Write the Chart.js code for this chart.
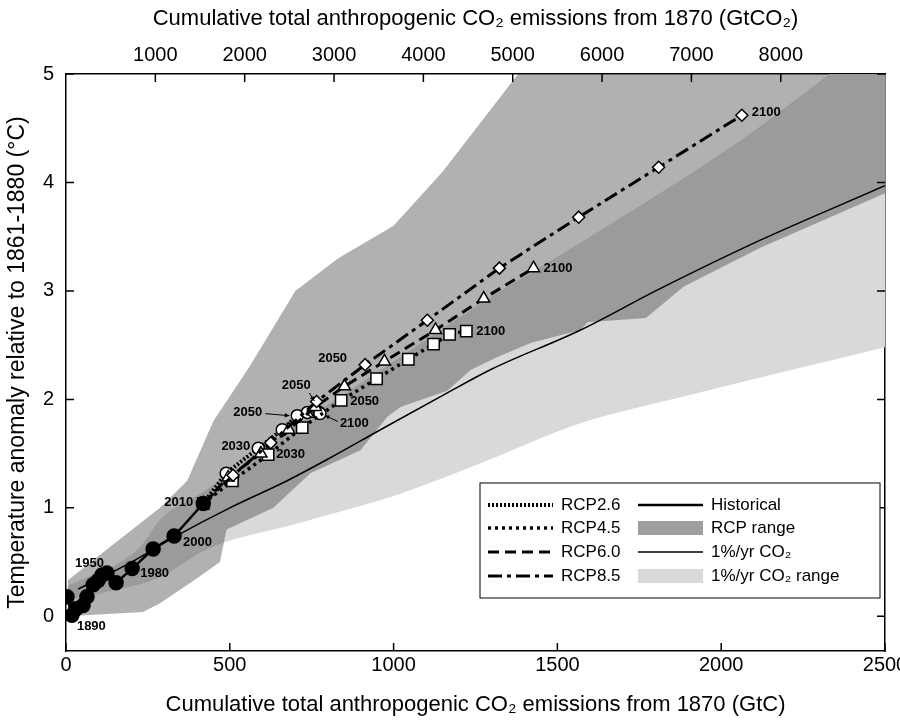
<!DOCTYPE html>
<html>
<head>
<meta charset="utf-8">
<script src="https://cdn.jsdelivr.net/npm/chart.js@4.4.1/dist/chart.umd.min.js"></script>
<style>
  body { margin: 0; background: #fff; }
  #wrap { width: 900px; height: 720px; }
</style>
</head>
<body>
<div id="wrap"><canvas id="myChart" width="900" height="720"></canvas></div>
<script>
// cumulative emissions (GtC since 1870) against warming (degC), decadal means
const histX = [3, 18, 31, 52, 64, 83, 98, 110, 125, 153, 202, 266, 330, 419];
const histY = [0.18, 0.01, 0.07, 0.10, 0.18, 0.29, 0.33, 0.38, 0.40, 0.31, 0.44, 0.62, 0.74, 1.04];

// RCP decades 2010 ... 2100
const rcp26X = [419, 489, 587, 660, 706, 737, 755, 766, 772, 775];
const rcp26Y = [1.04, 1.32, 1.55, 1.72, 1.85, 1.88, 1.89, 1.89, 1.88, 1.87];
const rcp45X = [419, 508, 617, 721, 840, 948, 1045, 1122, 1171, 1222];
const rcp45Y = [1.04, 1.25, 1.49, 1.74, 1.99, 2.19, 2.37, 2.51, 2.60, 2.63];
const rcp60X = [419, 495, 595, 680, 761, 850, 972, 1128, 1275, 1427];
const rcp60Y = [1.04, 1.28, 1.50, 1.72, 1.93, 2.12, 2.35, 2.64, 2.93, 3.21];
const rcp85X = [419, 510, 625, 765, 913, 1103, 1323, 1565, 1809, 2063];
const rcp85Y = [1.04, 1.30, 1.60, 1.98, 2.32, 2.73, 3.21, 3.68, 4.14, 4.62];

// 1%/yr CO2 experiment
const pctX = [37, 200, 330, 500, 675, 800, 960, 1164, 1300, 1571, 1800, 2121, 2500];
const pctY = [0.25, 0.50, 0.73, 1.00, 1.25, 1.45, 1.72, 2.06, 2.28, 2.64, 3.00, 3.47, 3.97];

// model spread envelopes
const rcpTopX = [5, 134, 287, 370, 450, 560, 700, 830, 1000, 1150, 1380, 1600, 2500];
const rcpTopY = [0.33, 0.64, 1.00, 1.25, 1.80, 2.30, 3.00, 3.30, 3.60, 4.10, 5.00, 5.60, 8.00];
const rcpLowX = [5, 235, 287, 400, 470, 490, 633, 746, 899, 981, 1021, 1164, 1235, 1317, 1418, 1571, 1592, 1770, 1886, 2121, 2500];
const rcpLowY = [0.00, 0.04, 0.12, 0.35, 0.50, 0.80, 1.00, 1.32, 1.53, 1.84, 1.93, 2.08, 2.27, 2.39, 2.52, 2.64, 2.71, 2.75, 3.04, 3.40, 3.90];
const pctTopX = [5, 220, 290, 420, 700, 1000, 1300, 1600, 2060, 2265, 2500];
const pctTopY = [0.28, 0.62, 0.90, 1.15, 1.75, 2.35, 2.95, 3.50, 4.39, 4.85, 5.40];
const pctLowX = [5, 104, 287, 431, 700, 1021, 1265, 1571, 1876, 2500];
const pctLowY = [0.15, 0.21, 0.36, 0.62, 0.85, 1.13, 1.41, 1.78, 2.02, 2.48];

const gtcMax = 2500;
const co2PerC = 44 / 12;
const topTicks = [1000, 2000, 3000, 4000, 5000, 6000, 7000, 8000];
const leftTicks = [0, 1, 2, 3, 4, 5];

const pts = (xs, ys) => xs.map((x, i) => ({ x: x, y: ys[i] }));
const FONT = "'Liberation Sans', Arial, sans-serif";

// year tags: dataset label, point index, text, offset in px
const yearNotes = [
  { ds: 'Historical', i: 1, text: '1890', dx: 5, dy: 11, align: 'left' },
  { ds: 'Historical', i: 7, text: '1950', dx: -27, dy: -12, align: 'left' },
  { ds: 'Historical', i: 10, text: '1980', dx: 8, dy: 5, align: 'left' },
  { ds: 'Historical', i: 12, text: '2000', dx: 9, dy: 6, align: 'left' },
  { ds: 'Historical', i: 13, text: '2010', dx: -10, dy: -1, align: 'right' },
  { ds: 'RCP2.6', i: 2, text: '2030', dx: -8, dy: -2, align: 'right' },
  { ds: 'RCP4.5', i: 2, text: '2030', dx: 8, dy: 0, align: 'left' },
  { ds: 'RCP2.6', i: 4, text: '2050', dx: -35, dy: -3, align: 'right', arrow: [-32, -2, -8, 0] },
  { ds: 'RCP2.6', i: 9, text: '2100', dx: 20, dy: 10, align: 'left', arrow: [18, 8, 5, 2] },
  { ds: 'RCP6.0', i: 4, text: '2050', dx: -19, dy: -22, align: 'center', arrow: [-6, -14, -1, -6] },
  { ds: 'RCP8.5', i: 4, text: '2050', dx: -18, dy: -6, align: 'right' },
  { ds: 'RCP4.5', i: 4, text: '2050', dx: 9, dy: 1, align: 'left' },
  { ds: 'RCP4.5', i: 9, text: '2100', dx: 10, dy: 0, align: 'left' },
  { ds: 'RCP6.0', i: 9, text: '2100', dx: 10, dy: 0, align: 'left' },
  { ds: 'RCP8.5', i: 9, text: '2100', dx: 10, dy: -3, align: 'left' }
];

const yearTags = {
  id: 'yearTags',
  afterDatasetsDraw(chart) {
    const ctx = chart.ctx;
    ctx.save();
    ctx.font = 'bold 13px ' + FONT;
    ctx.fillStyle = '#000';
    ctx.strokeStyle = '#000';
    ctx.lineWidth = 1;
    ctx.textBaseline = 'middle';
    yearNotes.forEach(n => {
      const idx = chart.data.datasets.findIndex(d => d.label === n.ds);
      const el = chart.getDatasetMeta(idx).data[n.i];
      ctx.textAlign = n.align;
      ctx.fillText(n.text, el.x + n.dx, el.y + n.dy);
      if (n.arrow) {
        const [x0, y0, x1, y1] = n.arrow;
        const ax = el.x + x1, ay = el.y + y1;
        ctx.beginPath();
        ctx.moveTo(el.x + x0, el.y + y0);
        ctx.lineTo(ax, ay);
        ctx.stroke();
        const ang = Math.atan2(y1 - y0, x1 - x0);
        ctx.beginPath();
        ctx.moveTo(ax, ay);
        ctx.lineTo(ax - 5 * Math.cos(ang - 0.45), ay - 5 * Math.sin(ang - 0.45));
        ctx.lineTo(ax - 5 * Math.cos(ang + 0.45), ay - 5 * Math.sin(ang + 0.45));
        ctx.closePath();
        ctx.fill();
      }
    });
    ctx.restore();
  }
};

// inward tick marks on all four sides
const frameTicks = {
  id: 'frameTicks',
  afterDraw(chart) {
    const ctx = chart.ctx;
    const a = chart.chartArea;
    const len = 8;
    ctx.save();
    ctx.strokeStyle = '#000';
    ctx.lineWidth = 1.5;
    ctx.beginPath();
    chart.scales.x.ticks.forEach(t => {
      const p = chart.scales.x.getPixelForValue(t.value);
      ctx.moveTo(p, a.bottom); ctx.lineTo(p, a.bottom - len);
    });
    chart.scales.x2.ticks.forEach(t => {
      const p = chart.scales.x2.getPixelForValue(t.value);
      ctx.moveTo(p, a.top); ctx.lineTo(p, a.top + len);
    });
    chart.scales.y.ticks.forEach(t => {
      const p = chart.scales.y.getPixelForValue(t.value);
      ctx.moveTo(a.left, p); ctx.lineTo(a.left + len, p);
      ctx.moveTo(a.right, p); ctx.lineTo(a.right - len, p);
    });
    ctx.stroke();
    ctx.restore();
  }
};

// two-column key inside the lower right corner
const keyBox = {
  id: 'keyBox',
  afterDraw(chart) {
    const ctx = chart.ctx;
    const a = chart.chartArea;
    const box = { l: a.right - 405, t: a.bottom - 168, r: a.right - 5, b: a.bottom - 53 };
    ctx.save();
    ctx.fillStyle = '#fff';
    ctx.fillRect(box.l, box.t, box.r - box.l, box.b - box.t);
    ctx.strokeStyle = '#000';
    ctx.lineWidth = 1;
    ctx.strokeRect(box.l, box.t, box.r - box.l, box.b - box.t);
    const rows = [box.t + 22, box.t + 45, box.t + 69, box.t + 93];
    const sets = chart.data.datasets;
    const get = lbl => sets.find(d => d.label === lbl);
    const cols = [
      { x: box.l + 8, items: ['RCP2.6', 'RCP4.5', 'RCP6.0', 'RCP8.5'] },
      { x: box.l + 158, items: ['Historical', 'RCP range', '1%/yr CO\u2082', '1%/yr CO\u2082 range'] }
    ];
    ctx.font = '17px ' + FONT;
    ctx.textBaseline = 'middle';
    ctx.textAlign = 'left';
    cols.forEach(c => {
      c.items.forEach((lbl, k) => {
        const d = get(lbl);
        const y = rows[k];
        if (d.keySwatch) {
          ctx.fillStyle = d.keySwatch;
          ctx.fillRect(c.x, y - 7, 65, 14);
        } else {
          ctx.save();
          ctx.strokeStyle = '#000';
          ctx.lineWidth = d.borderWidth;
          ctx.setLineDash(d.borderDash || []);
          ctx.beginPath();
          ctx.moveTo(c.x, y);
          ctx.lineTo(c.x + 65, y);
          ctx.stroke();
          ctx.restore();
        }
        ctx.fillStyle = '#000';
        ctx.fillText(lbl, c.x + 73, y);
      });
    });
    ctx.restore();
  }
};

const markerBase = { borderColor: '#000', pointBorderColor: '#000', pointBackgroundColor: '#fff', pointBorderWidth: 1.5, fill: false, tension: 0 };

const datasets = [
  Object.assign({}, markerBase, { label: 'RCP2.6', data: pts(rcp26X, rcp26Y), borderWidth: 4, borderDash: [2, 2], pointStyle: 'circle', pointRadius: 6, order: 4 }),
  Object.assign({}, markerBase, { label: 'RCP4.5', data: pts(rcp45X, rcp45Y), borderWidth: 3.5, borderDash: [3, 4], pointStyle: 'rect', pointRadius: 8, order: 3 }),
  Object.assign({}, markerBase, { label: 'RCP6.0', data: pts(rcp60X, rcp60Y), borderWidth: 3, borderDash: [11, 6], pointStyle: 'triangle', pointRadius: 7, order: 2 }),
  Object.assign({}, markerBase, { label: 'RCP8.5', data: pts(rcp85X, rcp85Y), borderWidth: 3, borderDash: [14, 5, 4, 5], pointStyle: 'rectRot', pointRadius: 6, order: 1 }),
  { label: 'Historical', data: pts(histX, histY), borderColor: '#000', borderWidth: 2.5, pointBackgroundColor: '#000', pointBorderColor: '#000', pointRadius: 6.5, fill: false, order: 0 },
  { label: '1%/yr CO\u2082', data: pts(pctX, pctY), borderColor: '#000', borderWidth: 1.5, pointRadius: 0, fill: false, cubicInterpolationMode: 'monotone', order: 5 },
  { label: 'RCP range', data: pts(rcpTopX, rcpTopY), borderWidth: 0, pointRadius: 0, backgroundColor: 'rgba(70,70,70,0.42)', fill: '+1', keySwatch: '#9e9e9e', order: 6 },
  { label: 'rcpLow', data: pts(rcpLowX, rcpLowY), borderWidth: 0, pointRadius: 0, fill: false, order: 7 },
  { label: '1%/yr CO\u2082 range', data: pts(pctTopX, pctTopY), borderWidth: 0, pointRadius: 0, backgroundColor: '#d9d9d9', fill: '+1', keySwatch: '#d9d9d9', cubicInterpolationMode: 'monotone', order: 8 },
  { label: 'pctLow', data: pts(pctLowX, pctLowY), borderWidth: 0, pointRadius: 0, fill: false, cubicInterpolationMode: 'monotone', order: 9 }
];

const tickFont = { family: FONT, size: 20 };
const titleFont = { family: FONT, size: 22 };
const plainNum = v => String(v);

new Chart(document.getElementById('myChart'), {
  type: 'line',
  data: { datasets: datasets },
  plugins: [yearTags, frameTicks, keyBox],
  options: {
    responsive: false,
    animation: false,
    devicePixelRatio: 1,
    layout: { padding: 0 },
    plugins: { legend: { display: false }, tooltip: { enabled: false } },
    scales: {
      x: {
        type: 'linear', position: 'bottom', min: 0, max: gtcMax,
        grid: { display: false, drawTicks: false },
        border: { display: true, color: '#000', width: 1.5 },
        ticks: { stepSize: 500, color: '#000', font: tickFont, padding: 2, maxRotation: 0, callback: plainNum },
        title: { display: true, text: 'Cumulative total anthropogenic CO\u2082 emissions from 1870 (GtC)', color: '#000', font: titleFont, padding: { bottom: 2 } },
        afterFit: s => { s.height = 69; s.paddingLeft = 0; s.paddingRight = 0; }
      },
      x2: {
        type: 'linear', position: 'top', min: 0, max: gtcMax * co2PerC,
        grid: { display: false, drawTicks: false },
        border: { display: true, color: '#000', width: 1.5 },
        afterBuildTicks: s => { s.ticks = topTicks.map(v => ({ value: v })); },
        ticks: { color: '#000', font: tickFont, padding: 7, maxRotation: 0, callback: plainNum },
        title: { display: true, text: 'Cumulative total anthropogenic CO\u2082 emissions from 1870 (GtCO\u2082)', color: '#000', font: titleFont, padding: { top: 6 } },
        afterFit: s => { s.height = 74; s.paddingLeft = 0; s.paddingRight = 0; }
      },
      y: {
        type: 'linear', position: 'left', min: -0.32, max: 5,
        grid: { display: false, drawTicks: false },
        border: { display: true, color: '#000', width: 1.5 },
        afterBuildTicks: s => { s.ticks = leftTicks.map(v => ({ value: v })); },
        ticks: { color: '#000', font: tickFont, padding: 12, callback: plainNum },
        title: { display: true, text: 'Temperature anomaly relative to 1861-1880 (\u00b0C)', color: '#000', font: { family: FONT, size: 23 }, padding: { top: 4 } },
        afterFit: s => { s.width = 66; s.paddingTop = 0; s.paddingBottom = 0; }
      },
      y2: {
        type: 'linear', position: 'right', min: -0.32, max: 5,
        grid: { display: false, drawTicks: false },
        border: { display: true, color: '#000', width: 1.5 },
        afterBuildTicks: s => { s.ticks = leftTicks.map(v => ({ value: v })); },
        ticks: { display: false },
        afterFit: s => { s.width = 15; }
      }
    }
  }
});
</script>
</body>
</html>
